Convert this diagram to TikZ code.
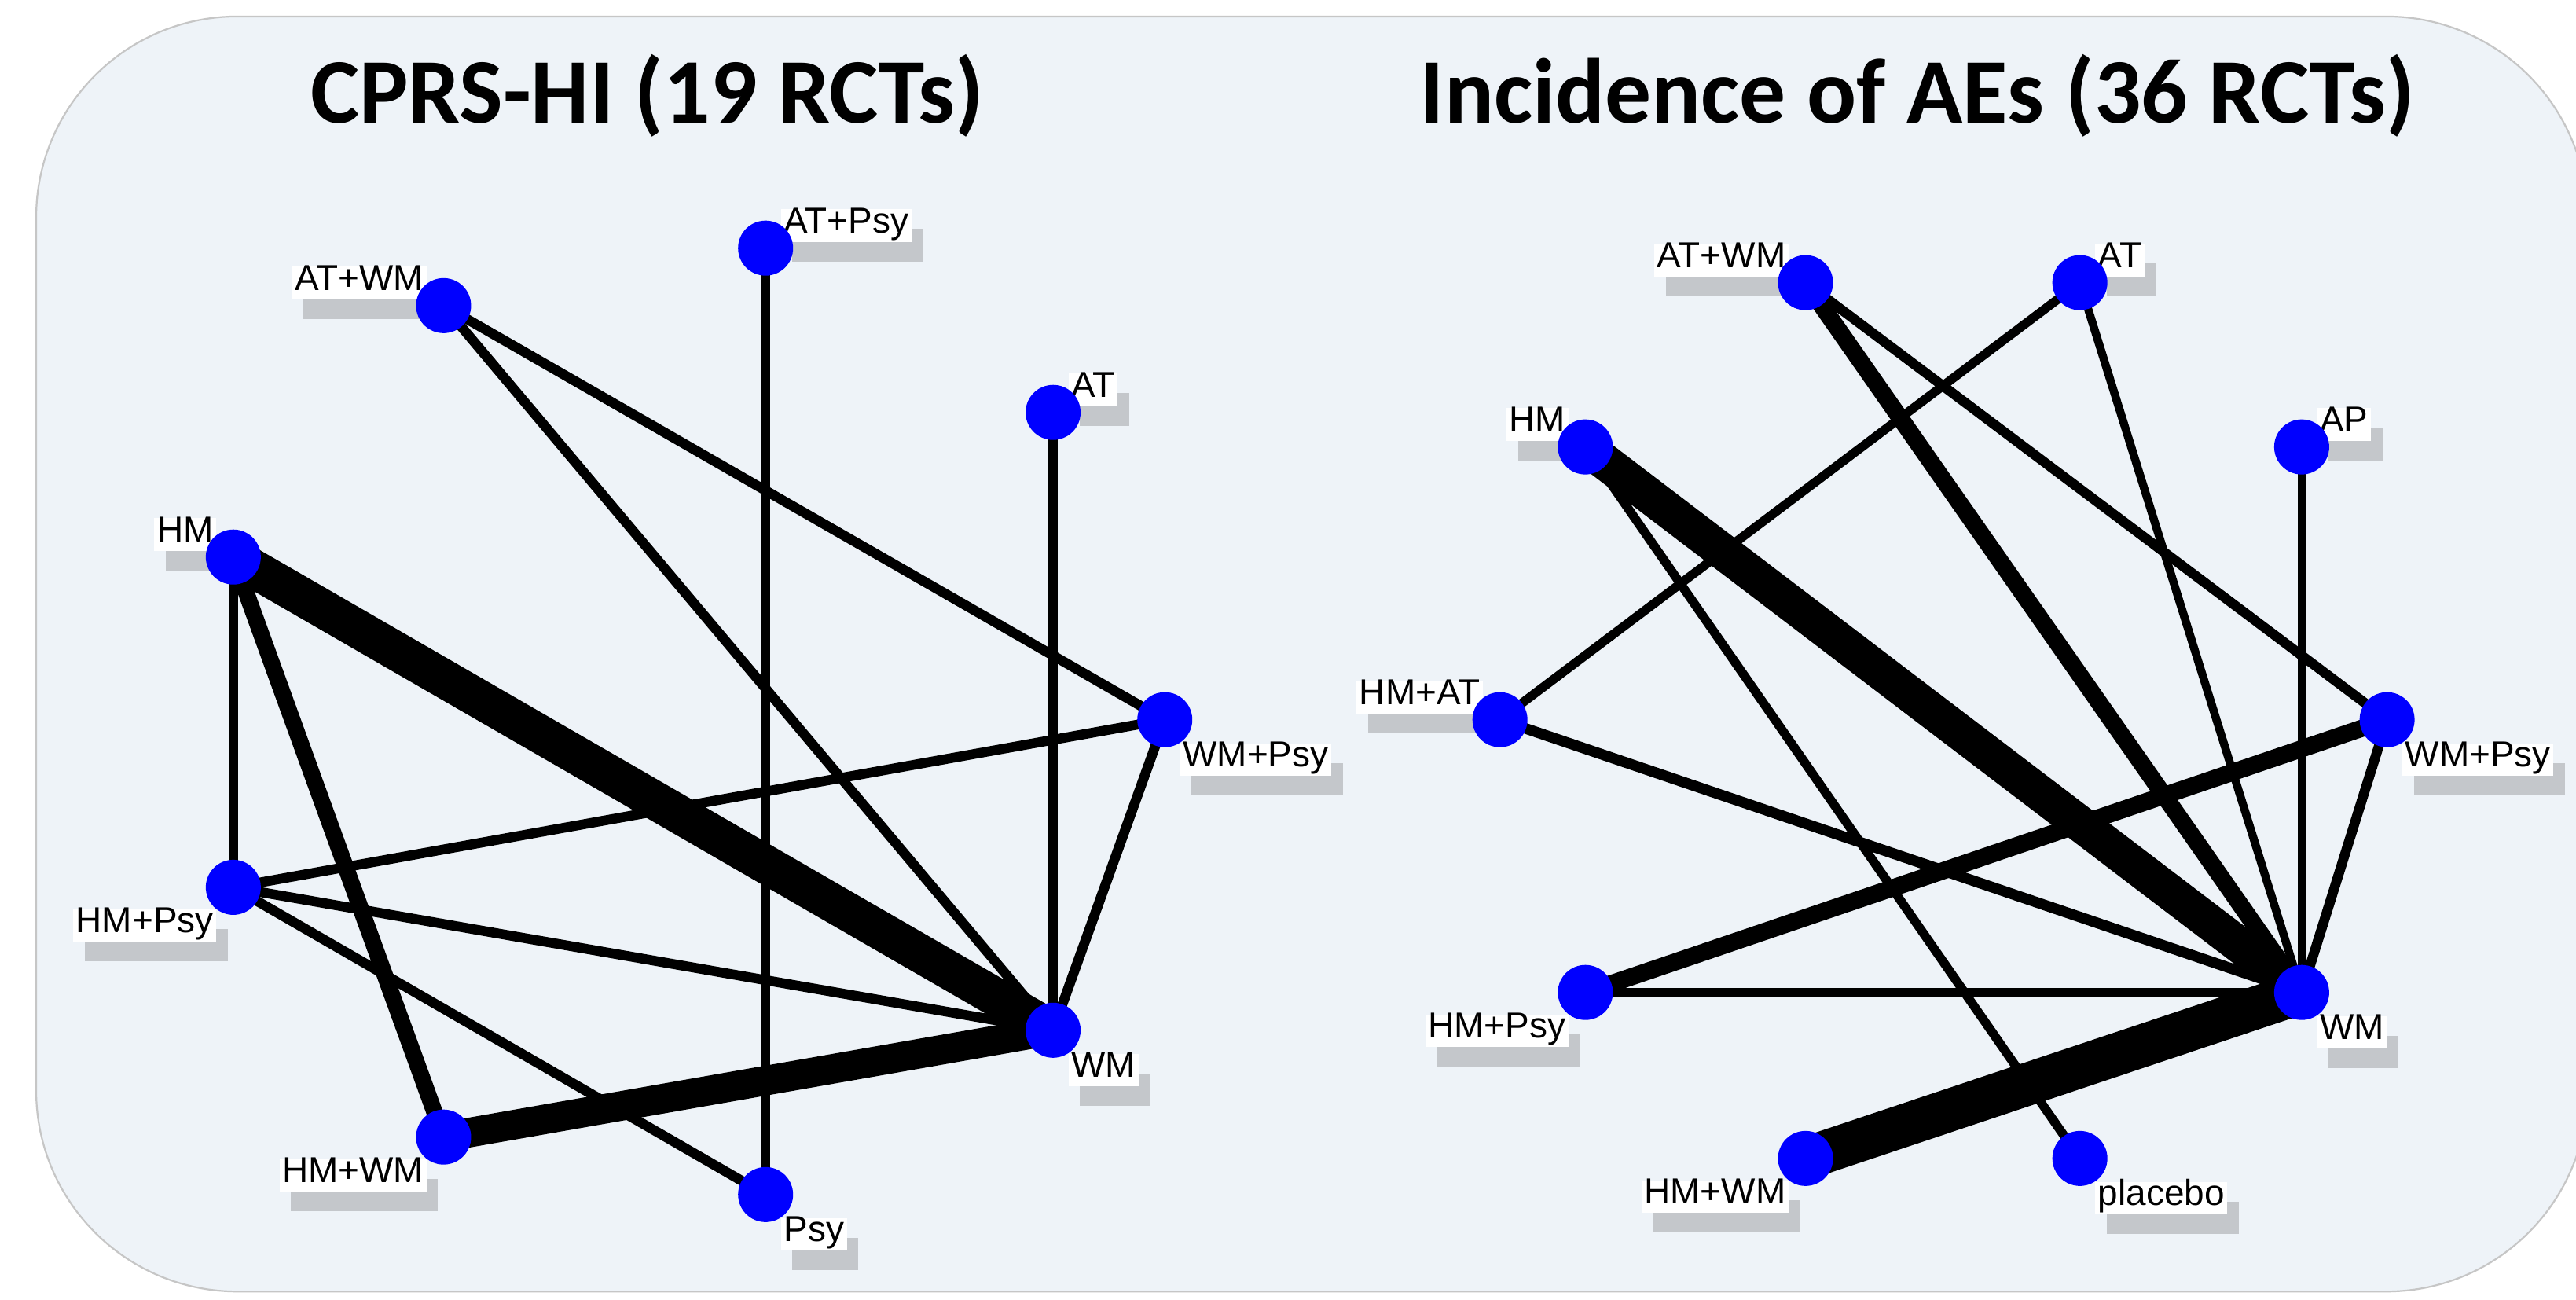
\documentclass[tikz,border=0pt]{standalone}
\usepackage{fontspec}
\setmainfont{Liberation Sans}
\newfontfamily\headfont{Carlito}
\usetikzlibrary{positioning, shadows}

\pgfdeclarelayer{frame}
\pgfdeclarelayer{links}
\pgfdeclarelayer{tags}
\pgfsetlayers{frame,links,tags,main}

\definecolor{panel}{RGB}{238,243,248}
\definecolor{shade}{RGB}{168,170,174}

\begin{document}
\begin{tikzpicture}[
        x=0.02cm, y=-0.02cm,
        font=\fontsize{12.5}{14}\selectfont,
        dot/.style={
            circle,
            fill=blue,
            inner sep=0pt,
            minimum size=0.67cm
        },
        tag/.style={
            fill=white,
            inner sep=1pt,
            text height=0.72em,
            text depth=0.21em,
            drop shadow={shadow xshift=0.14cm, shadow yshift=-0.24cm,
                fill=shade, opacity=0.6}
        },
        heading/.style={
            anchor=base,
            font=\headfont\bfseries\fontsize{32}{38}\selectfont
        },
        link/.style={
            line width=0.12cm,
            black
        },
        panelbox/.style={
            fill=panel,
            draw=gray!45,
            line width=0.6pt,
            rounded corners=2.45cm
        }
    ]

    \useasboundingbox (0,0) rectangle (1568,791);

    \begin{pgfonlayer}{frame}
        \fill[white] (0,0) rectangle (1568,791);
        \draw[panelbox] (22,10) rectangle (1575,786);
    \end{pgfonlayer}

    \node[heading] (left-title) at (394,75) {CPRS-HI (19 RCTs)};
    \node[heading] (right-title) at (1167,75) {Incidence of AEs (36 RCTs)};

    % left network
    \node[dot] (l-atpsy) at (466,151) {};
    \node[dot] (l-atwm) at (270,186) {};
    \node[dot] (l-at) at (641,251) {};
    \node[dot] (l-hm) at (142,339) {};
    \node[dot] (l-wmpsy) at (709,438) {};
    \node[dot] (l-hmpsy) at (142,540) {};
    \node[dot] (l-wm) at (641,627) {};
    \node[dot] (l-hmwm) at (270,692) {};
    \node[dot] (l-psy) at (466,727) {};

    \begin{pgfonlayer}{tags}
        \node[tag, above right=0.07cm and 0.18cm of l-atpsy.center] (l-atpsy-tag) {AT+Psy};
        \node[tag, above left=0.07cm and 0.2cm of l-atwm.center] (l-atwm-tag) {AT+WM};
        \node[tag, above right=0.07cm and 0.18cm of l-at.center] (l-at-tag) {AT};
        \node[tag, above left=0.07cm and 0.2cm of l-hm.center] (l-hm-tag) {HM};
        \node[tag, below right=0.28cm and 0.18cm of l-wmpsy.center] (l-wmpsy-tag) {WM+Psy};
        \node[tag, below left=0.26cm and 0.2cm of l-hmpsy.center] (l-hmpsy-tag) {HM+Psy};
        \node[tag, below right=0.28cm and 0.18cm of l-wm.center] (l-wm-tag) {WM};
        \node[tag, below left=0.26cm and 0.2cm of l-hmwm.center] (l-hmwm-tag) {HM+WM};
        \node[tag, below right=0.28cm and 0.18cm of l-psy.center] (l-psy-tag) {Psy};
    \end{pgfonlayer}

    \begin{pgfonlayer}{links}
        \draw[link] (l-atpsy.center) -- (l-psy.center);
        \draw[link] (l-atwm.center) -- (l-wmpsy.center);
        \draw[link] (l-atwm.center) -- (l-wm.center);
        \draw[link] (l-at.center) -- (l-wm.center);
        \draw[link, line width=0.47cm] (l-hm.center) -- (l-wm.center);
        \draw[link] (l-hm.center) -- (l-hmpsy.center);
        \draw[link, line width=0.2cm] (l-hm.center) -- (l-hmwm.center);
        \draw[link] (l-hmpsy.center) -- (l-wmpsy.center);
        \draw[link] (l-hmpsy.center) -- (l-wm.center);
        \draw[link] (l-hmpsy.center) -- (l-psy.center);
        \draw[link] (l-wmpsy.center) -- (l-wm.center);
        \draw[link, line width=0.36cm] (l-hmwm.center) -- (l-wm.center);
    \end{pgfonlayer}

    % right network
    \node[dot] (r-atwm) at (1099,172) {};
    \node[dot] (r-at) at (1266,172) {};
    \node[dot] (r-hm) at (965,272) {};
    \node[dot] (r-ap) at (1401,272) {};
    \node[dot] (r-hmat) at (913,438) {};
    \node[dot] (r-wmpsy) at (1453,438) {};
    \node[dot] (r-hmpsy) at (965,604) {};
    \node[dot] (r-wm) at (1401,604) {};
    \node[dot] (r-hmwm) at (1099,705) {};
    \node[dot] (r-placebo) at (1266,705) {};

    \begin{pgfonlayer}{tags}
        \node[tag, above left=0.07cm and 0.2cm of r-atwm.center] (r-atwm-tag) {AT+WM};
        \node[tag, above right=0.07cm and 0.18cm of r-at.center] (r-at-tag) {AT};
        \node[tag, above left=0.07cm and 0.2cm of r-hm.center] (r-hm-tag) {HM};
        \node[tag, above right=0.07cm and 0.18cm of r-ap.center] (r-ap-tag) {AP};
        \node[tag, above left=0.07cm and 0.2cm of r-hmat.center] (r-hmat-tag) {HM+AT};
        \node[tag, below right=0.28cm and 0.18cm of r-wmpsy.center] (r-wmpsy-tag) {WM+Psy};
        \node[tag, below left=0.26cm and 0.2cm of r-hmpsy.center] (r-hmpsy-tag) {HM+Psy};
        \node[tag, below right=0.28cm and 0.18cm of r-wm.center] (r-wm-tag) {WM};
        \node[tag, below left=0.26cm and 0.2cm of r-hmwm.center] (r-hmwm-tag) {HM+WM};
        \node[tag, below right=0.28cm and 0.18cm of r-placebo.center] (r-placebo-tag) {placebo};
    \end{pgfonlayer}

    \begin{pgfonlayer}{links}
        \draw[link, line width=0.21cm] (r-atwm.center) -- (r-wm.center);
        \draw[link] (r-atwm.center) -- (r-wmpsy.center);
        \draw[link, line width=0.11cm] (r-at.center) -- (r-hmat.center);
        \draw[link, line width=0.1cm] (r-at.center) -- (r-wm.center);
        \draw[link, line width=0.44cm] (r-hm.center) -- (r-wm.center);
        \draw[link, line width=0.11cm] (r-hm.center) -- (r-placebo.center);
        \draw[link, line width=0.1cm] (r-ap.center) -- (r-wm.center);
        \draw[link, line width=0.13cm] (r-hmat.center) -- (r-wm.center);
        \draw[link, line width=0.21cm] (r-hmpsy.center) -- (r-wmpsy.center);
        \draw[link] (r-wmpsy.center) -- (r-wm.center);
        \draw[link, line width=0.11cm] (r-hmpsy.center) -- (r-wm.center);
        \draw[link, line width=0.52cm] (r-hmwm.center) -- (r-wm.center);
    \end{pgfonlayer}

\end{tikzpicture}
\end{document}
